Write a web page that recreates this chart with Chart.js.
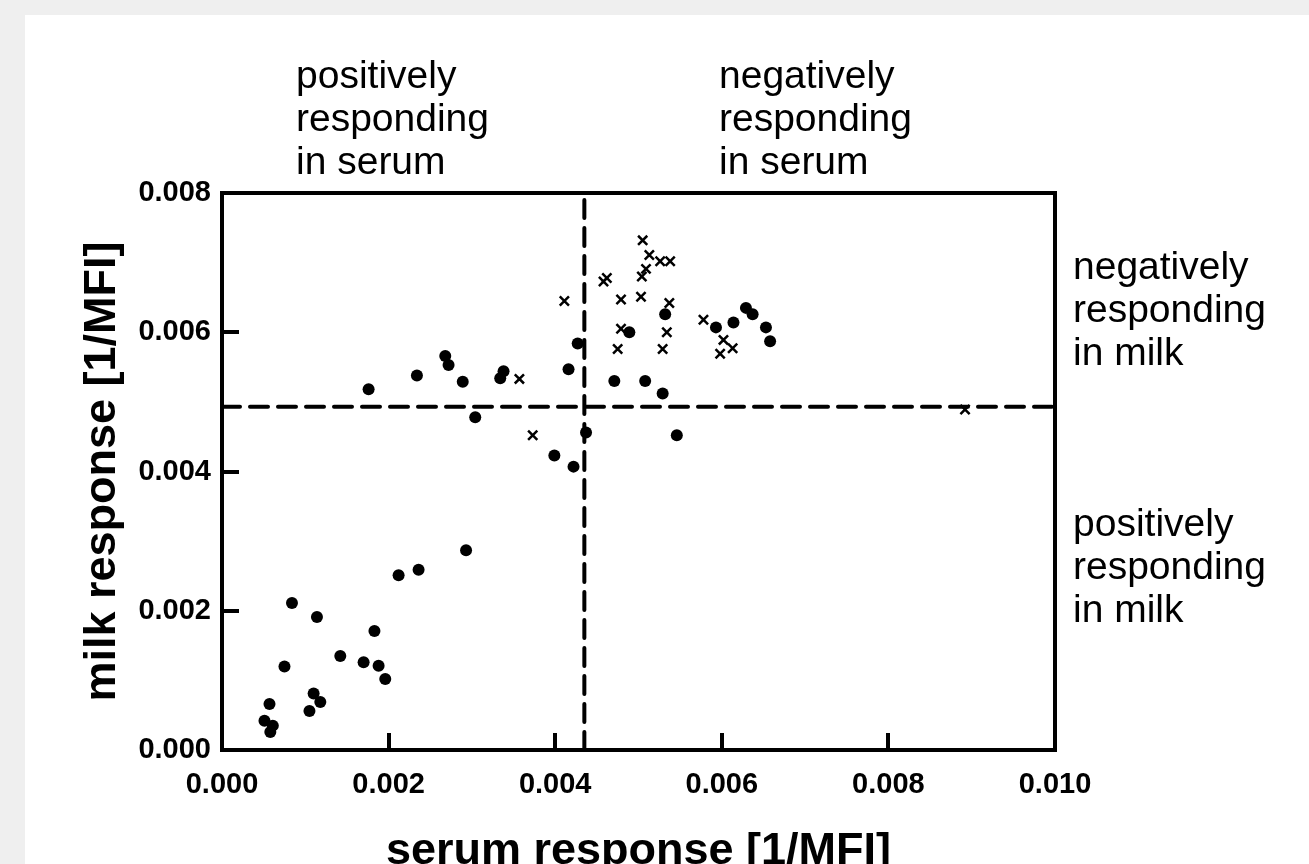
<!DOCTYPE html>
<html>
<head>
<meta charset="utf-8">
<script src="https://cdn.jsdelivr.net/npm/chart.js@4.4.1/dist/chart.umd.min.js"></script>
<style>
  html, body { margin: 0; padding: 0; background: #efefef; width: 1309px; height: 864px; overflow: hidden; }
  #panel { position: absolute; left: 25px; top: 15px; width: 1284px; height: 849px; background: #ffffff; }
  #chart { position: absolute; left: 0; top: 0; }
  .note { position: absolute; font-family: "Liberation Sans", Arial, sans-serif; font-size: 39px; line-height: 43px; color: #000; white-space: nowrap; }
</style>
</head>
<body>
<div id="panel">
  <canvas id="chart" width="1284" height="849"></canvas>
</div>
<div class="note" style="left:296px; top:53px;">positively<br>responding<br>in serum</div>
<div class="note" style="left:719px; top:53px;">negatively<br>responding<br>in serum</div>
<div class="note" style="left:1073px; top:244px;">negatively<br>responding<br>in milk</div>
<div class="note" style="left:1073px; top:501px;">positively<br>responding<br>in milk</div>
<script>
// ---- data ----
const circleSerum = [0.00084,0.00114,0.00075,0.00057,0.00051,0.00061,0.00058,0.00105,0.00110,0.00118,
  0.00142,0.00170,0.00183,0.00188,0.00196,0.00212,0.00236,0.00293,0.00176,0.00234,
  0.00268,0.00272,0.00289,0.00304,0.00338,0.00334,0.00399,0.00422,0.00437,0.00416,
  0.00427,0.00471,0.00508,0.00529,0.00546,0.00489,0.00532,0.00593,0.00614,0.00629,
  0.00637,0.00653,0.00658];
const circleMilk = [0.00211,0.00191,0.00120,0.00066,0.00042,0.00035,0.00026,0.00056,0.00081,0.00069,
  0.00135,0.00126,0.00171,0.00121,0.00102,0.00251,0.00259,0.00287,0.00518,0.00538,
  0.00566,0.00553,0.00529,0.00478,0.00544,0.00534,0.00423,0.00407,0.00456,0.00547,
  0.00584,0.00530,0.00530,0.00512,0.00452,0.00600,0.00626,0.00607,0.00614,0.00635,
  0.00626,0.00607,0.00587];
const crossSerum = [0.00357,0.00373,0.00411,0.00505,0.00513,0.00526,0.00538,0.00509,0.00504,0.00458,
  0.00462,0.00479,0.00503,0.00537,0.00479,0.00534,0.00475,0.00529,0.00578,0.00602,
  0.00613,0.00598,0.00892];
const crossMilk = [0.00533,0.00452,0.00645,0.00732,0.00711,0.00702,0.00702,0.00691,0.00680,0.00673,
  0.00678,0.00647,0.00651,0.00642,0.00605,0.00600,0.00576,0.00576,0.00618,0.00589,
  0.00577,0.00569,0.00489];
const serumCut = 0.00435;   // vertical dashed line
const milkCut = 0.00493;    // horizontal dashed line
const xRange = [0, 0.010];
const yRange = [0, 0.008];
const tickStep = 0.002;
const xTitle = "serum response [1/MFI]";
const yTitle = "milk response [1/MFI]";

const FONT = '"Liberation Sans", Arial, sans-serif';
const toPts = (xs, ys) => xs.map((x, i) => ({ x: x, y: ys[i] }));

Chart.defaults.font.family = FONT;
Chart.defaults.color = '#000';

const tickFont = { family: FONT, size: 29, weight: 'bold' };
const titleFont = { family: FONT, size: 45, weight: 'bold', lineHeight: 1.2 };

new Chart(document.getElementById('chart'), {
  type: 'scatter',
  data: {
    datasets: [
      {
        label: 'circles',
        data: toPts(circleSerum, circleMilk),
        pointStyle: 'circle',
        pointRadius: 6,
        pointBackgroundColor: '#000',
        pointBorderWidth: 0,
        order: 0
      },
      {
        label: 'crosses',
        data: toPts(crossSerum, crossMilk),
        pointStyle: 'crossRot',
        pointRadius: 6.5,
        pointBorderColor: '#000',
        pointBorderWidth: 2.5,
        order: 0
      },
      {
        label: 'milk threshold',
        data: [{ x: xRange[0], y: milkCut }, { x: xRange[1], y: milkCut }],
        showLine: true,
        borderColor: '#000',
        borderWidth: 4,
        borderDash: [18, 10],
        borderCapStyle: 'round',
        pointRadius: 0,
        order: 1
      },
      {
        label: 'serum threshold',
        data: [{ x: serumCut, y: yRange[0] }, { x: serumCut, y: yRange[1] }],
        showLine: true,
        borderColor: '#000',
        borderWidth: 4,
        borderDash: [18, 10],
        borderCapStyle: 'round',
        pointRadius: 0,
        order: 1
      }
    ]
  },
  options: {
    responsive: false,
    animation: false,
    layout: { padding: { top: 178, right: 254, bottom: 0, left: 0 } },
    plugins: { legend: { display: false }, tooltip: { enabled: false } },
    scales: {
      x: {
        type: 'linear', position: 'bottom',
        min: xRange[0], max: xRange[1],
        ticks: { stepSize: tickStep, font: tickFont, color: '#000', padding: 35, maxRotation: 0,
                 callback: v => Number(v).toFixed(3) },
        grid: { display: true, drawOnChartArea: false, drawTicks: true, tickLength: -17, lineWidth: 4, color: '#000' },
        border: { display: true, width: 4, color: '#000' },
        title: { display: true, text: xTitle, font: Object.assign({}, titleFont, { lineHeight: 0.8 }), color: '#000', padding: { top: 0, bottom: -6 } },
        afterFit: s => { s.height = 114; }
      },
      y: {
        type: 'linear', position: 'left',
        min: yRange[0], max: yRange[1],
        ticks: { stepSize: tickStep, font: tickFont, color: '#000', padding: 28,
                 callback: v => Number(v).toFixed(3) },
        grid: { display: true, drawOnChartArea: false, drawTicks: true, tickLength: -17, lineWidth: 4, color: '#000' },
        border: { display: true, width: 4, color: '#000' },
        title: { display: true, text: yTitle, font: titleFont, color: '#000', padding: { top: 51, bottom: 0 } },
        afterFit: s => { s.width = 197; }
      },
      xTop: {
        type: 'linear', position: 'top', min: xRange[0], max: xRange[1],
        ticks: { display: false },
        grid: { display: true, drawOnChartArea: false, drawTicks: false },
        border: { display: true, width: 4, color: '#000' },
        afterFit: s => { s.height = 0; }
      },
      yRight: {
        type: 'linear', position: 'right', min: yRange[0], max: yRange[1],
        ticks: { display: false },
        grid: { display: true, drawOnChartArea: false, drawTicks: false },
        border: { display: true, width: 4, color: '#000' },
        afterFit: s => { s.width = 0; }
      }
    }
  }
});
</script>
</body>
</html>
